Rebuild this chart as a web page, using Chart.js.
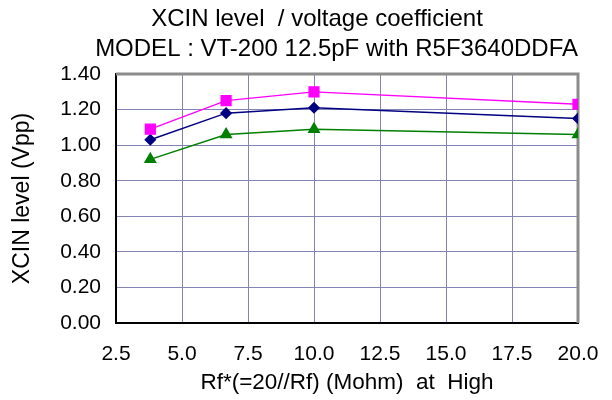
<!DOCTYPE html>
<html>
<head>
<meta charset="utf-8">
<script src="https://cdn.jsdelivr.net/npm/chart.js@4/dist/chart.umd.min.js"></script>
<style>
  body { margin: 0; background: #fff; }
  canvas { display: block; }
</style>
</head>
<body>
<canvas id="xcinChart" width="612" height="400"></canvas>
<script>
// Rf* = 20//Rf  (Mohm)
const rfStar = [3.8, 6.67, 10.0, 20.0];
// XCIN level (Vpp), one array per trace
const levelPink = [1.09, 1.25, 1.30, 1.23];
const levelNavy = [1.03, 1.18, 1.21, 1.15];
const levelGreen = [0.92, 1.06, 1.09, 1.06];

const xMin = 2.5, xMax = 20.0, xStep = 2.5;
const yMin = 0, yMax = 1.4, yStep = 0.2;

const FONT = '"Liberation Sans", Arial, sans-serif';

function pts(ys){
    return rfStar.map((x, i) => ({x: x, y: ys[i]}));
}

// gray frame on top and right of the plot area
const frame = {
    id: 'frame',
    beforeDatasetsDraw(chart){
        const a = chart.chartArea, ctx = chart.ctx;
        ctx.save();
        ctx.strokeStyle = '#8c8c8c';
        ctx.lineWidth = 3;
        ctx.beginPath();
        ctx.moveTo(a.left, a.top);
        ctx.lineTo(a.right, a.top);
        ctx.lineTo(a.right, a.bottom);
        ctx.stroke();
        ctx.restore();
    }
};

const chart = new Chart(document.getElementById('xcinChart'), {
    type: 'line',
    data: {
        datasets: [{
            data: pts(levelPink),
            borderColor: '#ff00ff',
            backgroundColor: '#ff00ff',
            borderWidth: 1.3,
            pointStyle: 'rect',
            pointRadius: 7
        },
        {
            data: pts(levelNavy),
            borderColor: '#000080',
            backgroundColor: '#000080',
            borderWidth: 1.5,
            pointStyle: 'rectRot',
            pointRadius: 5
        },
        {
            data: pts(levelGreen),
            borderColor: '#008000',
            backgroundColor: '#008000',
            borderWidth: 1.5,
            pointStyle: 'triangle',
            pointRadius: 6
        }]
    },
    options: {
        responsive: false,
        animation: false,
        devicePixelRatio: 1,
        layout: { padding: { left: 0, right: 34, top: 0, bottom: 0 } },
        elements: { line: { tension: 0 }, point: { borderWidth: 0 } },
        plugins: {
            legend: { display: false },
            tooltip: { enabled: false },
            title: {
                display: true,
                fullSize: false,
                text: 'XCIN level  / voltage coefficient         ',
                color: '#000',
                font: { family: FONT, size: 24, weight: 'normal', lineHeight: 1.2 },
                padding: { top: 4.6, bottom: 0 }
            },
            subtitle: {
                display: true,
                align: 'end',
                text: 'MODEL : VT-200 12.5pF with R5F3640DDFA',
                color: '#000',
                font: { family: FONT, size: 24, weight: 'normal', lineHeight: 1.2 },
                padding: { top: 1.2, bottom: 10.6 }
            }
        },
        scales: {
            x: {
                type: 'linear',
                min: xMin,
                max: xMax,
                afterFit(scale){
                    scale.height = 77;
                    // end labels may hang past the plot edges
                    scale.paddingLeft = 0;
                    scale.paddingRight = 0;
                },
                grid: { color: '#8484b4', lineWidth: 1, drawTicks: false },
                border: { color: '#000', width: 2 },
                ticks: {
                    stepSize: xStep,
                    padding: 19,
                    color: '#000',
                    font: { family: FONT, size: 21 },
                    callback: v => v.toFixed(1)
                },
                title: {
                    display: true,
                    text: 'Rf*(=20//Rf) (Mohm)  at  High',
                    color: '#000',
                    font: { family: FONT, size: 22.5 },
                    padding: { top: 0, bottom: 4 }
                }
            },
            y: {
                min: yMin,
                max: yMax,
                afterFit(scale){ scale.width = 116; },
                grid: { color: '#8484b4', lineWidth: 1, drawTicks: false },
                border: { color: '#000', width: 2 },
                ticks: {
                    stepSize: yStep,
                    padding: 15,
                    color: '#000',
                    font: { family: FONT, size: 21 },
                    callback: v => v.toFixed(2)
                },
                title: {
                    display: true,
                    text: 'XCIN level (Vpp)',
                    color: '#000',
                    font: { family: FONT, size: 23 },
                    padding: { top: 9, bottom: 0 }
                }
            }
        }
    },
    plugins: [frame]
});
</script>
</body>
</html>
